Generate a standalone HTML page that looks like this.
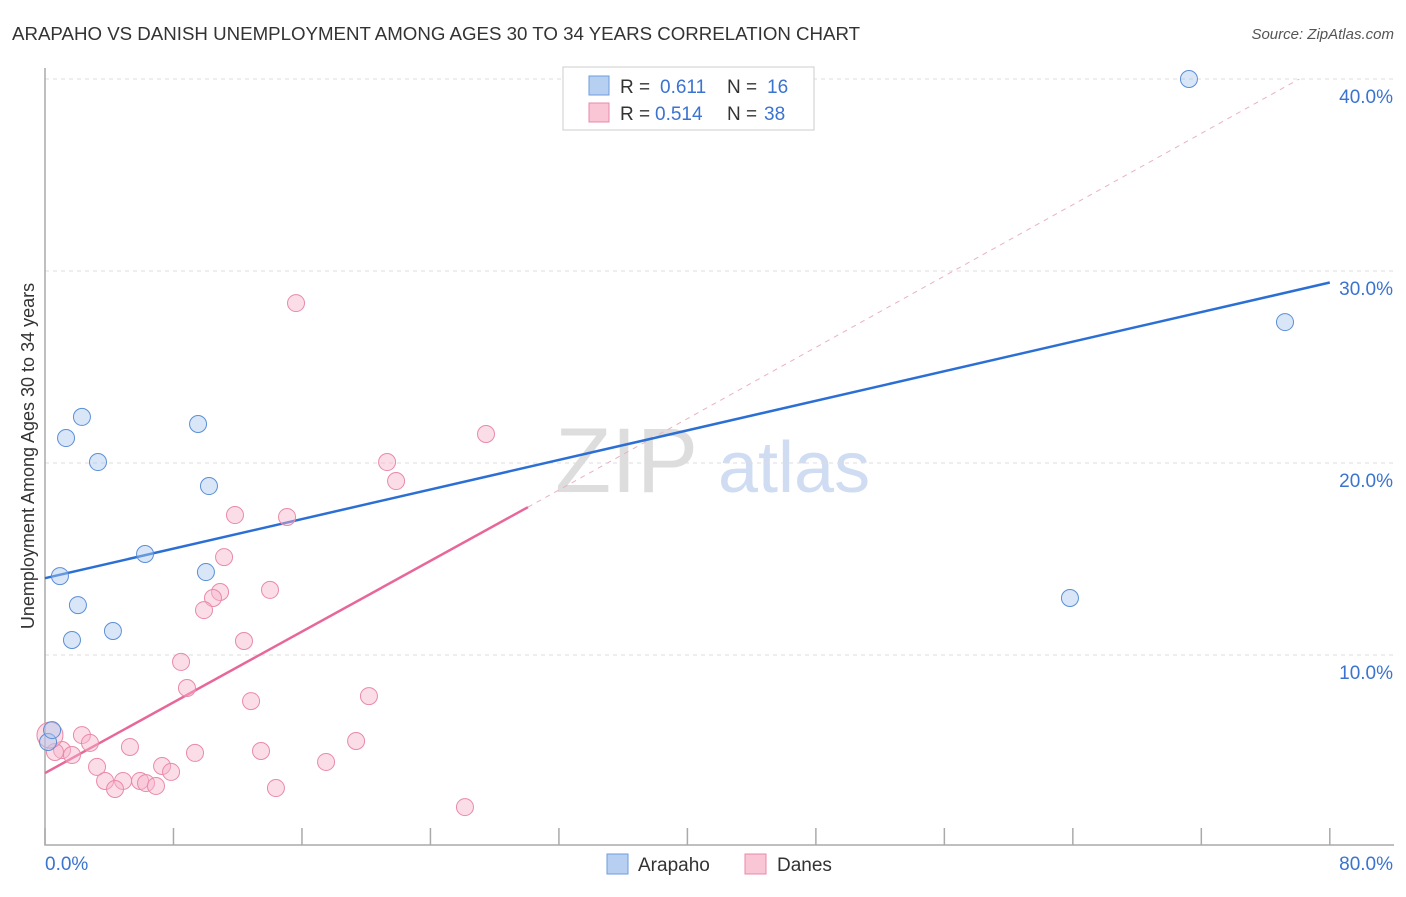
<!DOCTYPE html>
<html><head><meta charset="utf-8"><style>
body{margin:0;background:#fff;font-family:"Liberation Sans",sans-serif}
svg text{font-family:"Liberation Sans",sans-serif}
</style></head><body>
<svg id="c" width="1406" height="892">
<text x="12" y="40" font-size="18.7" fill="#333">ARAPAHO VS DANISH UNEMPLOYMENT AMONG AGES 30 TO 34 YEARS CORRELATION CHART</text>
<text x="1394" y="39" font-size="15" fill="#555" font-style="italic" text-anchor="end">Source: ZipAtlas.com</text>
<text transform="translate(34,456) rotate(-90)" font-size="18" fill="#333" text-anchor="middle">Unemployment Among Ages 30 to 34 years</text>
<g><text x="555" y="492" font-size="92" fill="#ddd" font-family="Liberation Serif">ZIP</text><text x="718" y="492" font-size="72" fill="#cfdcf2">atlas</text></g>
<g id="grid"></g><g id="axes"></g><g id="lines"></g><g id="pts"></g>
<g>
<rect x="563" y="67" width="251" height="63" fill="#fff" stroke="#ccc"/>
<rect x="589" y="76" width="20" height="19" fill="#b7d0f2" stroke="#6d9ddc"/>
<rect x="589" y="103" width="20" height="19" fill="#f9c6d6" stroke="#e98aa8"/>
<text x="620" y="93" font-size="19" fill="#333">R =</text>
<text x="660" y="93" font-size="19" fill="#3a73d0">0.611</text>
<text x="727" y="93" font-size="19" fill="#333">N =</text>
<text x="767" y="93" font-size="19" fill="#3a73d0">16</text>
<text x="620" y="120" font-size="19" fill="#333">R =</text>
<text x="655" y="120" font-size="19" fill="#3a73d0">0.514</text>
<text x="727" y="120" font-size="19" fill="#333">N =</text>
<text x="764" y="120" font-size="19" fill="#3a73d0">38</text>
</g>
<g>
<rect x="607" y="854" width="21" height="20" fill="#b7d0f2" stroke="#6d9ddc"/>
<text x="638" y="871" font-size="19" fill="#333">Arapaho</text>
<rect x="745" y="854" width="21" height="20" fill="#f9c6d6" stroke="#e98aa8"/>
<text x="777" y="871" font-size="19" fill="#333">Danes</text>
</g>
</svg>
<script>
const yTicks=[10,20,30,40];
const yTickLabels=["10.0%","20.0%","30.0%","40.0%"];
const xTickVals=[0,8,16,24,32,40,48,56,64,72,80];
const arapahoX=[0.93,1.31,2.30,3.30,2.05,1.68,4.23,6.23,9.53,10.21,10.02,63.82,71.23,77.21,0.19,0.44];
const arapahoY=[14.11,21.30,22.40,20.05,12.60,10.78,11.25,15.26,22.03,18.80,14.32,12.97,40.0,27.34,5.47,6.09];
const danesX=[15.63,27.46,21.30,21.86,11.83,15.07,11.15,14.01,10.90,10.46,9.90,12.39,8.47,8.84,12.83,20.17,2.30,2.80,5.29,1.06,0.62,1.68,9.34,13.45,19.37,17.50,3.24,7.29,7.85,3.74,4.86,5.92,6.29,4.36,6.91,14.38,26.15,0.31];
const danesY=[28.33,21.51,20.05,19.06,17.29,17.19,15.10,13.39,13.28,12.97,12.34,10.73,9.64,8.28,7.60,7.86,5.83,5.42,5.21,5.05,4.95,4.79,4.90,5.00,5.52,4.43,4.17,4.22,3.91,3.44,3.44,3.44,3.33,3.02,3.18,3.07,2.08,5.83];
const blueLine=[[0,14.0],[80,29.4]];
const pinkLine=[[0,3.85],[30.07,17.7]];
const pinkDash=[[30.07,17.7],[78.1,40]];
const NS="http://www.w3.org/2000/svg";
const X=v=>45+v*16.06, Y=v=>847-v*19.2;
function mk(t,a,p){const e=document.createElementNS(NS,t);for(const k in a)e.setAttribute(k,a[k]);p.appendChild(e);return e;}
const grid=document.getElementById('grid'),axes=document.getElementById('axes'),lines=document.getElementById('lines'),pts=document.getElementById('pts');
yTicks.forEach((t,i)=>{
 const g=mk('line',{x1:45,x2:1394,y1:Y(t),y2:Y(t),stroke:'#ddd','stroke-dasharray':'4,4'},grid);
 
 
 const l=mk('text',{x:1393,y:Y(t)+24,'font-size':19,fill:'#3a73d0','text-anchor':'end'},axes);
 l.textContent=yTickLabels[i];
 
 
});
const ax=mk('path',{d:'M45 68V845H1394',fill:'none',stroke:'#aaa','stroke-width':1.5},axes);


xTickVals.forEach(v=>{
 const t=mk('line',{x1:X(v),x2:X(v),y1:828,y2:845,stroke:'#aaa','stroke-width':1.5},axes);
 
 
});
[[0,"0.0%",'start',45],[80,"80.0%",'end',1393]].forEach(a=>{
 const t=mk('text',{x:a[3],y:870,'font-size':19,fill:'#3a73d0','text-anchor':a[2]},axes);
 t.textContent=a[1];
 
 
});
function ln(p,st,name,dash,w){const e=mk('line',{x1:X(p[0][0]),y1:Y(p[0][1]),x2:X(p[1][0]),y2:Y(p[1][1]),stroke:st,'stroke-width':w},lines);if(dash)e.setAttribute('stroke-dasharray',dash);
 
 }
ln(pinkDash,'#eab0c4','danes-trend-extension','5,5',1);
ln(blueLine,'#2c6fd4','arapaho-trend-line',null,2.5);
ln(pinkLine,'#e8679a','danes-trend-line',null,2.5);
danesX.forEach((x,i)=>{
 const c=mk('circle',{cx:X(x),cy:Y(danesY[i]),r:i==37?13:8.5,fill:'rgba(247,180,203,0.45)',stroke:'#e98aa8','stroke-width':1},pts);
 
 
});
arapahoX.forEach((x,i)=>{
 const c=mk('circle',{cx:X(x),cy:Y(arapahoY[i]),r:8.5,fill:'rgba(168,200,240,0.45)',stroke:'#5b8fd6','stroke-width':1},pts);
 
 
});
</script>
</body></html>
